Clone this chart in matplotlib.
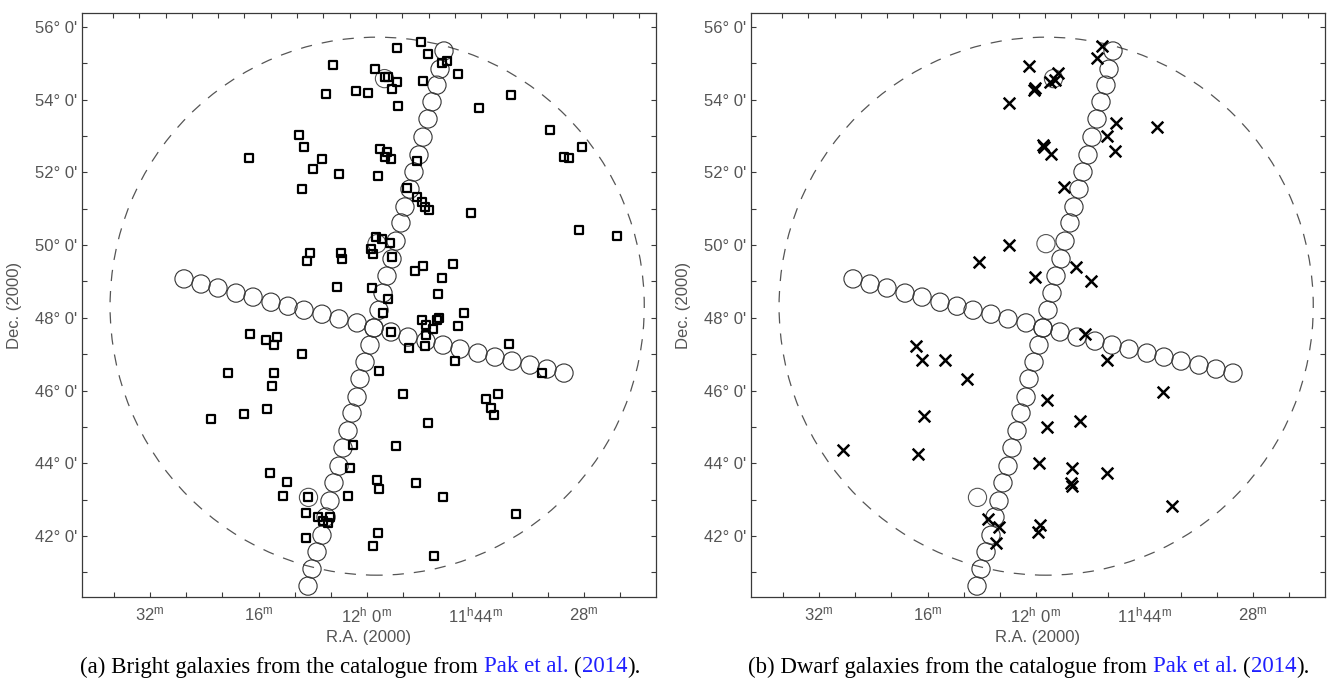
import numpy as np
import matplotlib
matplotlib.use("Agg")
import matplotlib.pyplot as plt
from matplotlib.patches import Ellipse
from matplotlib.ticker import FixedLocator, NullFormatter

plt.rcParams['font.family'] = ['Liberation Sans', 'DejaVu Sans']

# RA is given in minutes after 11h (60 = 12h 0m), Dec in degrees

# scan track circles
track1_ra = [48.64, 49.23, 49.68, 50.41, 51.00, 51.74, 52.33, 53.07, 53.66, 54.40,
             54.99, 55.72, 56.31, 57.05, 57.64, 58.23, 58.97, 59.56, 60.29, 61.03,
             61.47, 62.21, 62.80, 63.54, 64.13, 64.87, 65.46, 66.05, 66.64, 67.37,
             68.11, 68.70]
track1_dec = [55.34, 54.84, 54.40, 53.94, 53.47, 52.97, 52.48, 52.01, 51.54, 51.05,
              50.61, 50.11, 49.62, 49.15, 48.68, 48.21, 47.72, 47.25, 46.78, 46.32,
              45.82, 45.38, 44.89, 44.42, 43.92, 43.46, 42.96, 42.52, 42.02, 41.56,
              41.09, 40.62]
track2_ra = [86.99, 84.48, 81.98, 79.32, 76.81, 74.16, 71.65, 69.29, 66.64, 64.13,
             61.47, 58.97, 56.46, 53.95, 51.30, 48.79, 46.28, 43.63, 41.12, 38.61,
             35.96, 33.45, 30.94]
track2_dec = [49.07, 48.93, 48.82, 48.68, 48.57, 48.43, 48.32, 48.21, 48.10, 47.97,
              47.86, 47.72, 47.61, 47.47, 47.36, 47.25, 47.14, 47.03, 46.92, 46.81,
              46.70, 46.59, 46.48]
extra_ra = [57.42, 58.53, 68.63]
extra_dec = [54.58, 50.04, 43.06]

# survey area
field_ra, field_dec = 58.5, 48.32
field_half_ra, field_half_dec = 39.4, 7.40

# bright galaxies
bright_ra = [52.03, 55.57, 51.00, 48.20, 48.94, 46.58, 65.02, 58.82, 57.34, 56.90,
             55.57, 51.74, 66.05, 61.62, 59.85, 56.31, 55.43, 43.48, 77.40, 70.03,
             69.29, 66.64, 67.97, 64.13, 58.08, 57.05, 57.34, 56.46, 58.38, 69.59,
             52.62, 54.10, 52.62, 51.89, 51.44, 50.85, 44.66, 58.67, 57.79, 56.61,
             59.41, 59.11, 56.31, 68.41, 68.85, 63.84, 63.69, 51.74, 52.92, 47.31,
             48.94, 49.53, 64.43, 59.26, 56.90, 57.64, 45.69, 51.89, 51.30, 50.27,
             49.68, 49.38, 46.58, 56.46, 77.26, 74.90, 73.28, 73.72, 51.30, 53.80,
             51.44, 69.59, 80.50, 73.72, 74.01, 83.01, 78.14, 74.75, 47.02, 58.23,
             54.69, 42.45, 41.71, 41.27, 40.68, 51.00, 62.07, 55.72, 62.51, 74.31,
             71.80, 72.39, 68.70, 62.80, 58.52, 58.23, 52.77, 48.79, 69.00, 67.23,
             66.49, 65.46, 65.75, 58.38, 69.00, 59.11, 50.12, 38.76, 33.01, 30.94,
             30.20, 28.29, 28.73, 23.12, 39.05, 34.19, 38.02]
bright_dec = [55.59, 55.42, 55.26, 55.06, 55.01, 54.71, 54.95, 54.84, 54.62, 54.62,
              54.49, 54.51, 54.16, 54.24, 54.18, 54.29, 53.83, 53.77, 52.40, 53.03,
              52.70, 52.37, 52.09, 51.96, 52.64, 52.56, 52.42, 52.37, 51.90, 51.54,
              52.31, 51.57, 51.32, 51.19, 51.05, 50.97, 50.88, 50.22, 50.17, 50.06,
              49.89, 49.76, 49.67, 49.78, 49.56, 49.78, 49.62, 49.43, 49.29, 49.48,
              49.09, 48.65, 48.85, 48.82, 48.52, 48.13, 48.13, 47.94, 47.80, 47.69,
              47.94, 47.99, 47.77, 47.61, 47.55, 47.39, 47.47, 47.25, 47.53, 47.17,
              47.22, 47.00, 46.48, 46.48, 46.12, 45.22, 45.35, 45.49, 46.81, 46.54,
              45.90, 45.77, 45.52, 45.33, 45.90, 45.11, 44.50, 44.47, 43.87, 43.73,
              43.48, 43.10, 43.07, 43.10, 43.54, 43.29, 43.46, 43.07, 42.63, 42.52,
              42.41, 42.52, 42.36, 42.08, 41.94, 41.72, 41.45, 54.13, 53.17, 52.42,
              52.40, 52.70, 50.42, 50.25, 47.28, 46.48, 42.60]

# dwarf galaxies
dwarf_ra = [50.27, 51.00, 61.03, 56.75, 57.93, 57.20, 60.15, 60.29, 63.98, 48.20,
            49.53, 48.35, 42.15, 58.97, 58.82, 57.79, 55.87, 63.98, 68.41, 60.15,
            54.10, 51.89, 52.77, 49.53, 77.70, 76.81, 73.42, 70.18, 76.52, 88.47,
            77.40, 58.38, 58.38, 53.51, 59.56, 54.69, 54.84, 54.69, 49.53, 67.08,
            65.46, 65.90, 59.41, 59.71, 41.27, 39.94]
dwarf_dec = [55.48, 55.15, 54.93, 54.73, 54.49, 54.54, 54.32, 54.27, 53.91, 53.36,
             53.00, 52.59, 53.25, 52.75, 52.70, 52.51, 51.60, 50.00, 49.54, 49.12,
             49.40, 49.01, 47.55, 46.84, 47.22, 46.84, 46.84, 46.32, 45.30, 44.36,
             44.25, 45.74, 45.00, 45.16, 44.01, 43.87, 43.46, 43.37, 43.73, 42.47,
             42.25, 41.80, 42.30, 42.11, 45.96, 42.82]

ra_ticks = [92, 76, 60, 44, 28]
ra_labels = [r'$\mathregular{32^{m}}$', r'$\mathregular{16^{m}}$',
             r'$\mathregular{12^{h}\ 0^{m}}$', r'$\mathregular{11^{h}44^{m}}$',
             r'$\mathregular{28^{m}}$']
dec_ticks = [42, 44, 46, 48, 50, 52, 54, 56]
dec_labels = [f"{d}\u00b0 0'" for d in dec_ticks]

W, H = 1328, 685
fig = plt.figure(figsize=(W / 100, H / 100), dpi=100)

txt_col = '#555555'
frame_col = '#3a3a3a'
lab_size = 12


def sky_panel(left_px):
    ax = fig.add_axes([left_px / W, 88 / H, 574 / W, 584 / H])
    ax.set_xlim(102.04, 17.37)
    ax.set_ylim(40.32, 56.385)

    ell = Ellipse((field_ra, field_dec), 2 * field_half_ra, 2 * field_half_dec,
                  fill=False, edgecolor='#555555', lw=0.9, linestyle=(0, (9, 8)))
    ax.add_patch(ell)

    for xs, ys in [(track1_ra, track1_dec), (track2_ra, track2_dec)]:
        ax.scatter(xs, ys, s=172, facecolors='none', edgecolors='#333333',
                   linewidths=0.8, zorder=3)
    ax.scatter(extra_ra, extra_dec, s=172, facecolors='none',
               edgecolors='#555555', linewidths=0.8, zorder=3)

    ax.xaxis.set_major_locator(FixedLocator(ra_ticks))
    ax.set_xticklabels(ra_labels)
    ax.xaxis.set_minor_locator(FixedLocator(np.arange(60 - 16 / 3 * 8, 104, 16 / 3)))
    ax.yaxis.set_major_locator(FixedLocator(dec_ticks))
    ax.set_yticklabels(dec_labels)
    ax.yaxis.set_minor_locator(FixedLocator(np.arange(41, 57, 1)))
    ax.tick_params(which='both', direction='in', top=False, right=True,
                   length=3.8, width=0.8, color=frame_col,
                   labelsize=lab_size, labelcolor=txt_col)
    ax.tick_params(axis='x', which='major', pad=6)
    ax.tick_params(axis='y', which='major', pad=3.5)
    for sp in ax.spines.values():
        sp.set_color(frame_col)
        sp.set_linewidth(0.9)

    # RA grid ticks along the upper edge are closer together
    top = ax.twiny()
    top.set_xlim(ax.get_xlim())
    top.xaxis.set_major_locator(FixedLocator(97.47 - 3.879 * np.arange(21)))
    top.xaxis.set_major_formatter(NullFormatter())
    top.tick_params(direction='in', length=3.8, width=0.8, color=frame_col)
    for sp in top.spines.values():
        sp.set_visible(False)

    ax.text(0.5, -0.07, 'R.A. (2000)', transform=ax.transAxes, ha='center',
            va='center', fontsize=lab_size, color=txt_col)
    ax.text(-0.117, 0.5, 'Dec. (2000)', transform=ax.transAxes, ha='center',
            va='center', rotation=90, fontsize=lab_size, color=txt_col)
    return ax


ax_a = sky_panel(82)
ax_a.scatter(bright_ra, bright_dec, marker='s', s=30, facecolors='none',
             edgecolors='black', linewidths=1.6, zorder=4)

ax_b = sky_panel(751)
ax_b.scatter(dwarf_ra, dwarf_dec, marker='x', s=70, color='black',
             linewidths=1.8, zorder=4)


def caption(x_px, y_px, pieces, size=16.5):
    renderer = fig.canvas.get_renderer()
    probe1 = fig.text(0, 0, 'x x', fontsize=size, family='Liberation Serif')
    probe2 = fig.text(0, 0, 'xx', fontsize=size, family='Liberation Serif')
    space = probe1.get_window_extent(renderer).width - probe2.get_window_extent(renderer).width
    probe1.remove()
    probe2.remove()
    x = x_px
    for s, col, gap in pieces:
        t = fig.text(x / W, 1 - y_px / H, s, fontsize=size, color=col,
                     family='Liberation Serif', ha='left', va='center')
        x += t.get_window_extent(renderer).width + (space if gap else 0)


blue = '#1f1fff'
caption(80, 667, [('(a) Bright galaxies from the catalogue from', 'black', True),
                  ('Pak et al.', blue, True), ('(', 'black', False),
                  ('2014', blue, False), (').', 'black', False)])
caption(748, 667, [('(b) Dwarf galaxies from the catalogue from', 'black', True),
                   ('Pak et al.', blue, True), ('(', 'black', False),
                   ('2014', blue, False), (').', 'black', False)])

fig.savefig('out.png', dpi=100)
